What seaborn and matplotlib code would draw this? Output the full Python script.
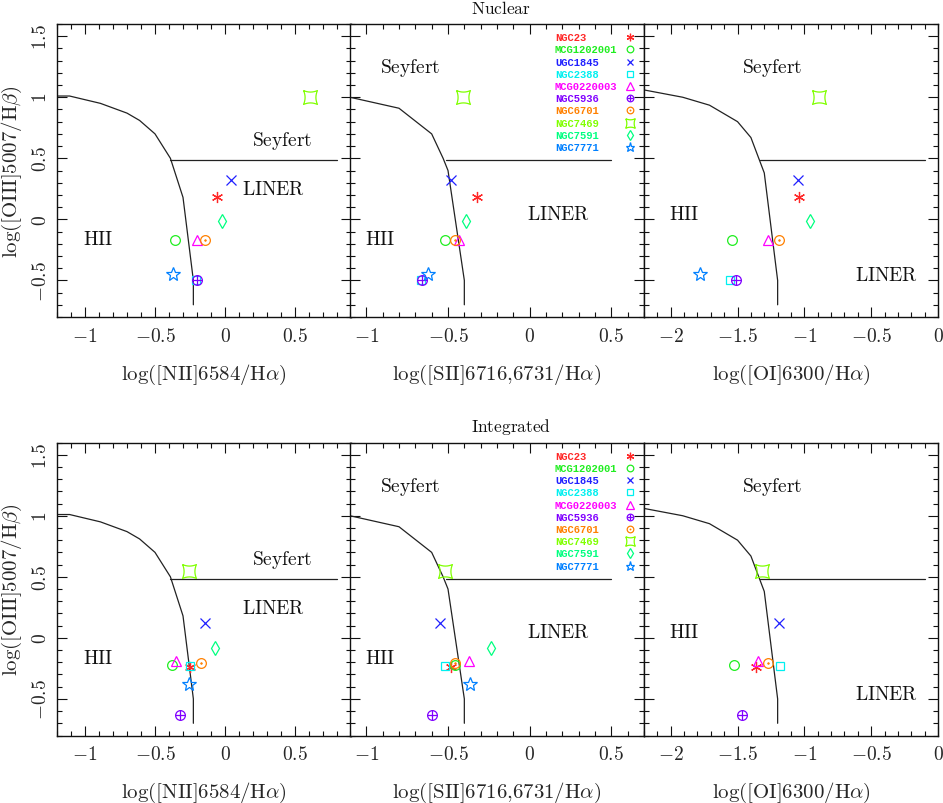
import numpy as np
import matplotlib
matplotlib.use('Agg')
import matplotlib.pyplot as plt
from matplotlib.ticker import FixedLocator, MultipleLocator, FuncFormatter
import seaborn as sns

# galaxies, in legend order
galaxies = ['NGC23', 'MCG1202001', 'UGC1845', 'NGC2388', 'MCG0220003',
            'NGC5936', 'NGC6701', 'NGC7469', 'NGC7591', 'NGC7771']
colors = ['#ff2828', '#20ee20', '#2020ff', '#00f0f0', '#ff00ff',
          '#8000ff', '#ff8000', '#80ff00', '#00ff80', '#0080ff']

# nuclear line ratios
nuc_oiii = [0.18, -0.17, 0.32, -0.50, -0.17, -0.50, -0.17, 1.00, -0.01, -0.45]
nuc_nii = [-0.06, -0.36, 0.04, -0.21, -0.20, -0.20, -0.14, 0.61, -0.02, -0.37]
nuc_sii = [-0.32, -0.52, -0.48, -0.665, -0.43, -0.66, -0.46, -0.41, -0.39, -0.62]
nuc_oi = [-1.04, -1.54, -1.045, -1.56, -1.27, -1.51, -1.19, -0.89, -0.96, -1.78]

# integrated line ratios
int_oiii = [-0.235, -0.22, 0.12, -0.23, -0.19, -0.63, -0.21, 0.55, -0.08, -0.38]
int_nii = [-0.25, -0.38, -0.14, -0.25, -0.35, -0.32, -0.17, -0.26, -0.07, -0.26]
int_sii = [-0.48, -0.46, -0.55, -0.52, -0.37, -0.60, -0.455, -0.52, -0.235, -0.365]
int_oi = [-1.36, -1.525, -1.19, -1.18, -1.345, -1.47, -1.27, -1.32, np.nan, np.nan]

# classification boundaries
nii_curve_x = [-1.2, -1.11, -0.89, -0.70, -0.61, -0.50, -0.39, -0.30, -0.226, -0.226]
nii_curve_y = [1.01, 1.01, 0.95, 0.87, 0.81, 0.70, 0.50, 0.18, -0.50, -0.70]
sii_curve_x = [-1.10, -0.80, -0.60, -0.53, -0.50, -0.40, -0.40]
sii_curve_y = [1.00, 0.91, 0.70, 0.50, 0.40, -0.50, -0.70]
oi_curve_x = [-2.2, -1.91, -1.71, -1.50, -1.40, -1.30, -1.20, -1.20]
oi_curve_y = [1.06, 1.00, 0.935, 0.80, 0.67, 0.38, -0.50, -0.70]
nii_hline_x = [-0.39, 0.80]
sii_hline_x = [-0.51, 0.50]
oi_hline_x = [-1.33, -0.10]
hline_y = 0.485

# concave square marker for NGC7469
t = np.linspace(-1, 1, 9)
bow = 1 - 0.22 * (1 - t ** 2)
concave = np.concatenate([np.c_[t, bow], np.c_[bow, -t], np.c_[-t, -bow], np.c_[-bow, t]])

markers = [(6, 2, 0), 'o', 'x', 's', '^', 'o', 'o', concave, 'd', '*']
overlay = [None, None, None, None, None, '+', '.', None, None, None]
msizes = [8, 7, 7, 6, 7.5, 7, 7, 10, 7.5, 10]

sns.set_theme(style='ticks')
plt.rcParams['mathtext.fontset'] = 'cm'
plt.rcParams['font.family'] = ['DejaVu Serif']

fig = plt.figure(figsize=(9.43, 8.04), dpi=100)
W, H = 943, 804
lefts = [57, 350, 644]
tops = [25, 443.5]
pw, ph = 294, 293

panels = [
    ('nii', nii_curve_x, nii_curve_y, nii_hline_x, (-1.2, 0.9), [-1, -0.5, 0, 0.5],
     r'$\log([\mathrm{NII}]6584/\mathrm{H}\alpha)$'),
    ('sii', sii_curve_x, sii_curve_y, sii_hline_x, (-1.1, 0.7), [-1, -0.5, 0, 0.5],
     r'$\log([\mathrm{SII}]6716{,}6731/\mathrm{H}\alpha)$'),
    ('oi', oi_curve_x, oi_curve_y, oi_hline_x, (-2.2, 0.0), [-2, -1.5, -1, -0.5, 0],
     r'$\log([\mathrm{OI}]6300/\mathrm{H}\alpha)$'),
]
region_pos = {
    'nii': [(0.405, 0.647), (0.35, 0.247), (-0.905, -0.165)],
    'sii': [(-0.73, 1.247), (0.174, 0.044), (-0.916, -0.165)],
    'oi': [(-1.238, 1.247), (-0.387, -0.458), (-1.90, 0.044)],
}
data_sets = [
    ('Nuclear', nuc_oiii, {'nii': nuc_nii, 'sii': nuc_sii, 'oi': nuc_oi}),
    ('Integrated', int_oiii, {'nii': int_nii, 'sii': int_sii, 'oi': int_oi}),
]


def tick_fmt(v, pos):
    if abs(v) < 1e-9:
        return r'$0$'
    return r'$%g$' % v


def draw_marker(ax, x, y, i, scale=1.0, **kw):
    ms = msizes[i] * scale
    ax.plot(x, y, linestyle='none', marker=markers[i], ms=ms, mfc='none',
            mec=colors[i], mew=0.9, **kw)
    if overlay[i] == '+':
        ax.plot(x, y, linestyle='none', marker='+', ms=ms, mec=colors[i], mew=0.9, **kw)
    elif overlay[i] == '.':
        ax.plot(x, y, linestyle='none', marker='o', ms=1.2 * scale, mfc=colors[i],
                mec=colors[i], mew=0.5, **kw)


for row, (title, oiii, xs) in enumerate(data_sets):
    top = tops[row]
    for col, (key, cx, cy, hx, xlim, xticks, xlabel) in enumerate(panels):
        ax = fig.add_axes([lefts[col] / W, 1 - (top + ph) / H, pw / W, ph / H])
        ax.set_facecolor('white')

        # boundary lines
        sns.lineplot(x=cx, y=cy, sort=False, estimator=None, color='#222222', lw=0.9, ax=ax)
        sns.lineplot(x=hx, y=[hline_y, hline_y], sort=False, estimator=None,
                     color='#222222', lw=0.9, ax=ax)

        # galaxies
        xv = xs[key]
        for i in range(len(galaxies)):
            if np.isnan(xv[i]):
                continue
            draw_marker(ax, [xv[i]], [oiii[i]], i)

        # region names
        for name, (tx, ty) in zip(['Seyfert', 'LINER', 'HII'], region_pos[key]):
            ax.text(tx, ty, r'$\mathrm{%s}$' % name, ha='center', va='center',
                    fontsize=14, color='#111111')

        ax.set_xlim(*xlim)
        ax.set_ylim(-0.8, 1.6)
        ax.xaxis.set_major_locator(FixedLocator(xticks))
        ax.xaxis.set_minor_locator(MultipleLocator(0.1))
        ax.yaxis.set_major_locator(FixedLocator([-0.5, 0, 0.5, 1, 1.5]))
        ax.yaxis.set_minor_locator(MultipleLocator(0.1))
        ax.xaxis.set_major_formatter(FuncFormatter(tick_fmt))
        ax.yaxis.set_major_formatter(FuncFormatter(tick_fmt))
        ax.tick_params(which='both', direction='in', top=True, right=True,
                       color='#111111', width=0.8, labelsize=14)
        ax.tick_params(which='major', length=7, pad=7)
        ax.tick_params(which='minor', length=3.5)
        for sp in ax.spines.values():
            sp.set_linewidth(1.0)
            sp.set_color('#111111')

        ax.set_xlabel(xlabel, fontsize=15, labelpad=12)
        if col == 0:
            ax.set_ylabel(r'$\log([\mathrm{OIII}]5007/\mathrm{H}\beta)$', fontsize=15, labelpad=6)
            ax.tick_params(axis='y', labelrotation=90, pad=5)
            plt.setp(ax.get_yticklabels(), va='center')
        else:
            ax.set_ylabel('')
            ax.tick_params(axis='y', labelleft=False)

        # legend in the middle panel
        if col == 1:
            for i, g in enumerate(galaxies):
                yy = 0.955 - i * 0.0417
                ax.text(0.697, yy, g, transform=ax.transAxes, ha='left', va='center',
                        fontsize=7.6, fontweight='bold', family='Liberation Mono', color=colors[i])
                draw_marker(ax, [0.952], [yy], i, scale=0.68, transform=ax.transAxes,
                            clip_on=False)

    fig.text(471 / W, 1 - (top - 11) / H, r'$\mathrm{%s}$' % title, ha='left', va='baseline',
             fontsize=12.5, color='#111111')

fig.savefig('out.png', dpi=100)
